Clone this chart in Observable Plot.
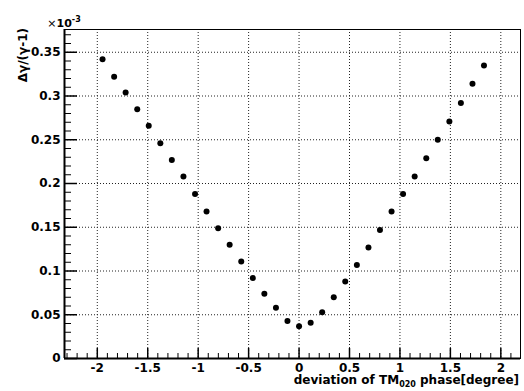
<!DOCTYPE html>
<html><head><meta charset="utf-8">
<script src="https://cdn.jsdelivr.net/npm/d3@7"></script>
<script src="https://cdn.jsdelivr.net/npm/@observablehq/plot@0.6"></script>
<style>html,body{margin:0;padding:0;background:#fff}svg{display:block}</style>
</head><body><div id="chart"></div>
<script>
// phase deviation of TM020 [degree]
const phaseDeviation = [-1.948, -1.833, -1.719, -1.604, -1.490, -1.375, -1.261, -1.146, -1.031, -0.917,
  -0.802, -0.688, -0.573, -0.458, -0.344, -0.229, -0.115, 0, 0.115, 0.229, 0.344, 0.458, 0.573, 0.688,
  0.802, 0.917, 1.031, 1.146, 1.261, 1.375, 1.490, 1.604, 1.719, 1.833];
// Δγ/(γ-1) in units of 1e-3
const energySpread = [0.342, 0.322, 0.304, 0.285, 0.266, 0.246, 0.227, 0.208, 0.188, 0.168,
  0.149, 0.130, 0.111, 0.092, 0.074, 0.058, 0.043, 0.037, 0.041, 0.053, 0.070, 0.088, 0.107, 0.127,
  0.147, 0.168, 0.188, 0.208, 0.229, 0.250, 0.271, 0.292, 0.314, 0.335];
const xTickValues = [-2, -1.5, -1, -0.5, 0, 0.5, 1, 1.5, 2];
const yTickValues = [0, 0.05, 0.1, 0.15, 0.2, 0.25, 0.3, 0.35];
const xMinorTicks = [-2.3,-2.2,-2.1,-1.9,-1.8,-1.7,-1.6,-1.4,-1.3,-1.2,-1.1,-0.9,-0.8,-0.7,-0.6,-0.4,-0.3,-0.2,-0.1,
  0.1,0.2,0.3,0.4,0.6,0.7,0.8,0.9,1.1,1.2,1.3,1.4,1.6,1.7,1.8,1.9,2.1];
const yMinorTicks = [0.01,0.02,0.03,0.04,0.06,0.07,0.08,0.09,0.11,0.12,0.13,0.14,0.16,0.17,0.18,0.19,
  0.21,0.22,0.23,0.24,0.26,0.27,0.28,0.29,0.31,0.32,0.33,0.34,0.36,0.37];
const xDomain = [-2.325, 2.195];
const yDomain = [0, 0.376];

const data = phaseDeviation.map((x, i) => ({x, y: energySpread[i]}));

const W = 524, H = 391, ML = 64, MR = 4, MT = 29, MB = 33;
const fw = W - ML - MR, fh = H - MT - MB;
const fmt = d => String(+d.toFixed(2));
const grid = {stroke: "#222", strokeOpacity: 1, strokeWidth: 1, strokeDasharray: "1,2"};
const FONT = "'DejaVu Sans', Verdana, sans-serif";

const svg = Plot.plot({
  width: W, height: H,
  marginLeft: ML, marginRight: MR, marginTop: MT, marginBottom: MB,
  style: {fontFamily: FONT, background: "#fff", color: "#000"},
  x: {domain: xDomain, axis: null},
  y: {domain: yDomain, axis: null},
  marks: [
    Plot.gridX(xTickValues, grid),
    Plot.gridY(yTickValues.filter(d => d > 0), grid),
    Plot.frame({stroke: "#000", strokeWidth: 1}),
    Plot.ruleX([xDomain[0]], {stroke: "#000", strokeWidth: 2}),
    Plot.ruleY([yDomain[0]], {stroke: "#000", strokeWidth: 2}),
    Plot.tickX(xTickValues, {x: d => d, insetTop: fh - 10, stroke: "#000", strokeWidth: 1.5}),
    Plot.tickX(xMinorTicks, {x: d => d, insetTop: fh - 5, stroke: "#000", strokeWidth: 1}),
    Plot.tickY(yTickValues, {y: d => d, insetRight: fw - 13, stroke: "#000", strokeWidth: 1.5}),
    Plot.tickY(yMinorTicks, {y: d => d, insetRight: fw - 7, stroke: "#000", strokeWidth: 1}),
    Plot.axisX(xTickValues, {label: null, tickSize: 0, tickPadding: 5, tickFormat: fmt, fontSize: 12, fontWeight: "bold"}),
    Plot.axisY(yTickValues, {label: null, tickSize: 0, tickPadding: 4, tickFormat: fmt, fontSize: 12, fontWeight: "bold"}),
    Plot.dot(data, {x: "x", y: "y", r: 3, fill: "#000", stroke: "none"})
  ]
});

const s = d3.select(svg);
// y-axis title
s.append("text")
  .attr("transform", "translate(27,28) rotate(-90)")
  .attr("text-anchor", "end")
  .attr("font-size", 12).attr("font-weight", "bold")
  .attr("fill", "#000")
  .text("Δγ/(γ-1)");
// exponent label
const ex = s.append("text").attr("x", ML).attr("y", 27).attr("font-size", 11).attr("font-weight", "bold").attr("fill", "#000");
ex.append("tspan").attr("font-weight", "normal").text("×");
ex.append("tspan").text("10");
ex.append("tspan").attr("font-size", 8).attr("dy", -5).text("-3");
// x-axis title
const xt = s.append("text").attr("x", 519).attr("y", 384).attr("text-anchor", "end")
  .attr("font-size", 12).attr("font-weight", "bold").attr("fill", "#000");
xt.append("tspan").text("deviation of TM");
xt.append("tspan").attr("font-size", 8).attr("dy", 3).text("020");
xt.append("tspan").attr("dy", -3).text(" phase[degree]");

document.getElementById("chart").appendChild(svg);
</script>
</body></html>
